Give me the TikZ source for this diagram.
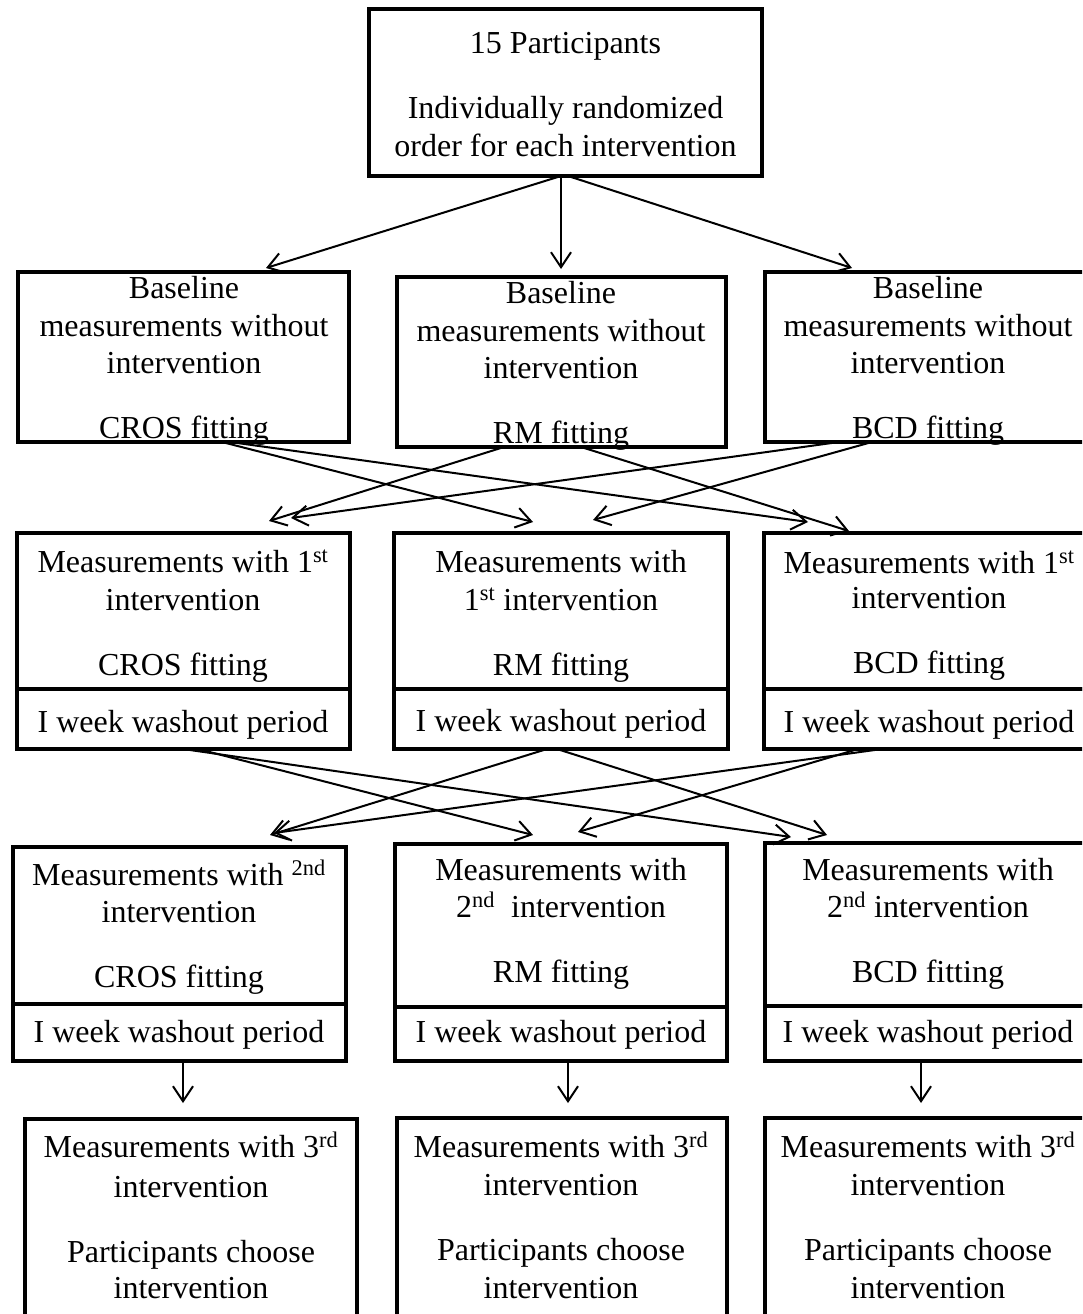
\documentclass[tikz,border=0pt]{standalone}
\usepackage{fontspec}
\setmainfont{Liberation Serif}
\usetikzlibrary{arrows.meta,calc}
\tikzset{
  box/.style={draw, line width=4.8pt, rectangle, outer sep=0pt, inner sep=0pt},
  txt/.style={anchor=base, inner sep=0pt, outer sep=0pt, font=\fontsize{32}{38}\selectfont},
  arr/.style={line width=2pt, -{Straight Barb[length=15pt,width=20pt]}},
}
\newcommand\bx[5]{\node[box, minimum width={(#4)-(#2)}, minimum height={(#5)-(#3)}] (#1) at ({((#2)+(#4))/2},{((#3)+(#5))/2}) {};}
\newcommand\tl[4]{\node[txt] (#1) at (#2,#3) {#4};}
\newcommand\ar[2]{\draw[arr] #1 -- #2;}
\begin{document}
\begin{tikzpicture}[x=1pt,y=-1pt]
\useasboundingbox (0,0) rectangle (1082,1314);
\clip (0,0) rectangle (1082,1314);
% boxes
\bx{top}{369}{9}{762}{176}
\bx{b1}{18}{272}{349}{442}
\bx{b2}{397}{277}{726}{447}
\bx{b3}{765}{272}{1095}{442}
\bx{c1}{17}{533}{350}{689}
\bx{c1w}{17}{689}{350}{749}
\bx{c2}{394}{533}{728}{689}
\bx{c2w}{394}{689}{728}{749}
\bx{c3}{764}{533}{1095}{689}
\bx{c3w}{764}{689}{1095}{749}
\bx{d1}{13}{847}{346}{1004}
\bx{d1w}{13}{1004}{346}{1061}
\bx{d2}{395}{844}{727}{1007}
\bx{d2w}{395}{1007}{727}{1061}
\bx{d3}{765}{843}{1095}{1006}
\bx{d3w}{765}{1006}{1095}{1061}
\bx{e1}{25}{1119}{357}{1340}
\bx{e2}{397}{1118}{727}{1340}
\bx{e3}{765}{1118}{1095}{1340}
% arrows top -> row 2
\ar{($(top.south west)+(192,0)$)}{($(b1.north west)+(248,-4)$)}
\ar{($(top.south west)+(192,0)$)}{($(b2.north west)+(164,-8)$)}
\ar{($(top.south west)+(199,0)$)}{($(b3.north west)+(87,-4)$)}
% row 2 -> row 3
\ar{($(b1.south west)+(204,0)$)}{($(c2.north west)+(139,-11)$)}
\ar{($(b1.south west)+(212,0)$)}{($(c3.north west)+(44,-11)$)}
\ar{($(b2.south west)+(107,0)$)}{($(c1.north west)+(252,-12)$)}
\ar{($(b2.south west)+(184,0)$)}{($(c3.north west)+(85,-2)$)}
\ar{($(b3.south west)+(74,0)$)}{($(c1.north west)+(274,-15)$)}
\ar{($(b3.south west)+(107,0)$)}{($(c2.north west)+(199,-13)$)}
% row 3 -> row 4
\ar{($(c1w.south west)+(181,0)$)}{($(d2.north west)+(138,-9)$)}
\ar{($(c1w.south west)+(166,0)$)}{($(d3.north west)+(26,-6)$)}
\ar{($(c2w.south west)+(153,0)$)}{($(d1.north west)+(257,-12)$)}
\ar{($(c2w.south west)+(163,0)$)}{($(d3.north west)+(62,-8)$)}
\ar{($(c3w.south west)+(118,0)$)}{($(d1.north west)+(261,-14)$)}
\ar{($(c3w.south west)+(94,0)$)}{($(d2.north west)+(183,-12)$)}
% row 4 -> row 5
\ar{($(d1w.south west)+(170,0)$)}{($(e1.north west)+(158,-16)$)}
\ar{($(d2w.south west)+(173,0)$)}{($(e2.north west)+(171,-15)$)}
\ar{($(d3w.south west)+(156,0)$)}{($(e3.north west)+(156,-15)$)}
% texts
\tl{ta}{565.5}{53}{15 Participants}
\tl{tb}{565.5}{118}{Individually randomized}
\tl{tc}{565.5}{156}{order for each intervention}
%
\tl{b1a}{184}{298}{Baseline}
\tl{b1b}{184}{336}{measurements without}
\tl{b1c}{184}{373}{intervention}
\tl{b1d}{184}{438}{CROS fitting}
\tl{b2a}{561}{303}{Baseline}
\tl{b2b}{561}{341}{measurements without}
\tl{b2c}{561}{378}{intervention}
\tl{b2d}{561}{443}{RM fitting}
\tl{b3a}{928}{298}{Baseline}
\tl{b3b}{928}{336}{measurements without}
\tl{b3c}{928}{373}{intervention}
\tl{b3d}{928}{438}{BCD fitting}
%
\tl{c1a}{183}{572}{Measurements with 1\textsuperscript{st}}
\tl{c1b}{183}{610}{intervention}
\tl{c1c}{183}{675}{CROS fitting}
\tl{c1d}{183}{732}{I week washout period}
\tl{c2a}{561}{572}{Measurements with}
\tl{c2b}{561}{610}{1\textsuperscript{st} intervention}
\tl{c2c}{561}{675}{RM fitting}
\tl{c2d}{561}{731}{I week washout period}
\tl{c3a}{929}{573}{Measurements with 1\textsuperscript{st}}
\tl{c3b}{929}{608}{intervention}
\tl{c3c}{929}{673}{BCD fitting}
\tl{c3d}{929}{732}{I week washout period}
%
\tl{d1a}{179}{885}{Measurements with \textsuperscript{2nd}}
\tl{d1b}{179}{922}{intervention}
\tl{d1c}{179}{987}{CROS fitting}
\tl{d1d}{179}{1042}{I week washout period}
\tl{d2a}{561}{880}{Measurements with}
\tl{d2b}{561}{917}{2\textsuperscript{nd}\ \ intervention}
\tl{d2c}{561}{982}{RM fitting}
\tl{d2d}{561}{1042}{I week washout period}
\tl{d3a}{928}{880}{Measurements with}
\tl{d3b}{928}{917}{2\textsuperscript{nd} intervention}
\tl{d3c}{928}{982}{BCD fitting}
\tl{d3d}{928}{1042}{I week washout period}
%
\tl{e1a}{191}{1157}{Measurements with 3\textsuperscript{rd}}
\tl{e1b}{191}{1197}{intervention}
\tl{e1c}{191}{1262}{Participants choose}
\tl{e1d}{191}{1298}{intervention}
\tl{e2a}{561}{1157}{Measurements with 3\textsuperscript{rd}}
\tl{e2b}{561}{1195}{intervention}
\tl{e2c}{561}{1260}{Participants choose}
\tl{e2d}{561}{1298}{intervention}
\tl{e3a}{928}{1157}{Measurements with 3\textsuperscript{rd}}
\tl{e3b}{928}{1195}{intervention}
\tl{e3c}{928}{1260}{Participants choose}
\tl{e3d}{928}{1298}{intervention}
\end{tikzpicture}
\end{document}
